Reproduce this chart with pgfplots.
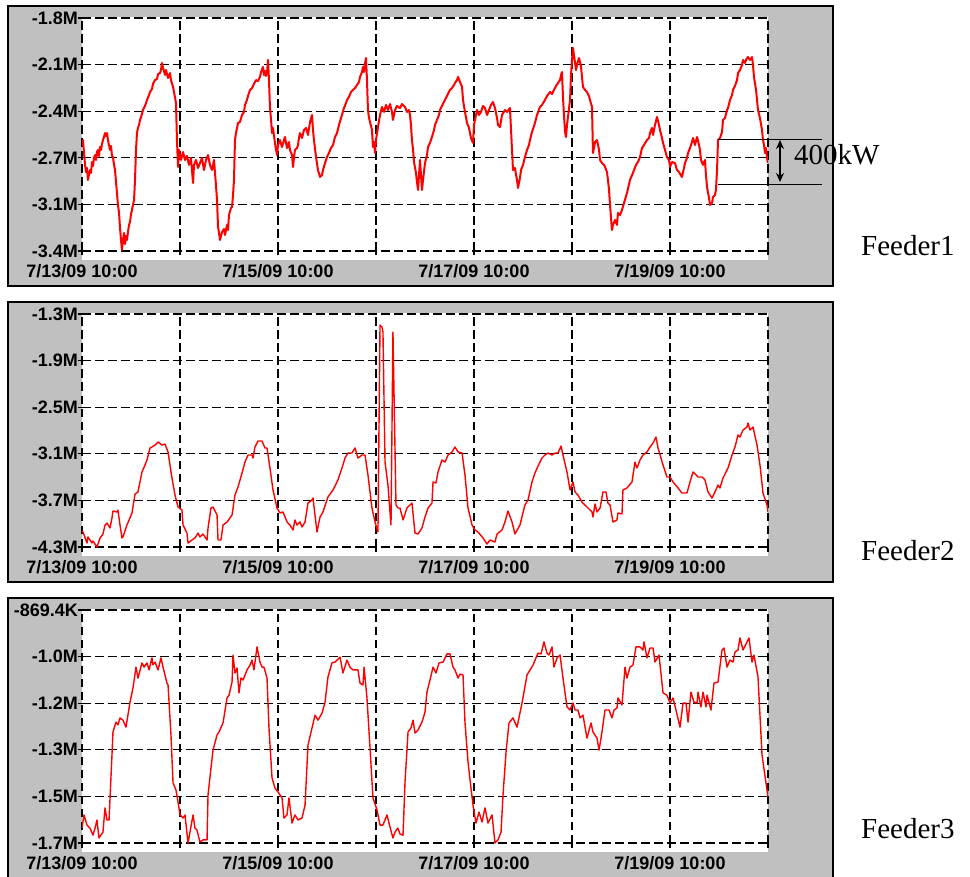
\documentclass[border=0pt]{standalone}
\usepackage{fontspec}
\setmainfont{Liberation Serif}
\setsansfont{Liberation Sans}
\usepackage{pgfplots}
\pgfplotsset{compat=1.18}
\usetikzlibrary{arrows.meta}
\definecolor{panelgray}{RGB}{192,192,192}

\pgfplotsset{feeder/.style={
  scale only axis, width=686pt, height=233pt,
  xmin=0, xmax=7, xtick={0,1,2,3,4,5,6,7},
  xticklabels={7/13/09 10:00,,7/15/09 10:00,,7/17/09 10:00,,7/19/09 10:00,},
  grid=major,
  major grid style={black, line width=1.3pt, dash pattern=on 8.5pt off 4.5pt},
  axis line style={draw=none},
  tick align=center, major tick length=9pt,
  tick style={black, line width=1.2pt},
  xtick pos=bottom, ytick pos=left,
  tick label style={font=\sffamily\bfseries\fontsize{18}{18}\selectfont},
  xticklabel style={yshift=-5pt},
  yticklabel style={xshift=4pt},
  every axis plot/.append style={red, line join=round, mark=none},
}}

\begin{document}
\begin{tikzpicture}
\useasboundingbox (0,0) rectangle (970pt,-877pt);
% panel backgrounds
\foreach \t in {6,302,598}{
  \fill[panelgray, draw=black, line width=1.5pt] (8pt,-\t pt) rectangle (833pt,{-(\t+280)*1pt});
  \fill[white] (82pt,{-(\t+11)*1pt}) rectangle (768pt,{-(\t+254)*1pt});
}

% ---------------- Feeder 1 ----------------
\begin{axis}[feeder, at={(82pt,-251pt)}, anchor=south west,
  ymin=-3.4, ymax=-1.8,
  ytick={-3.4,-3.08,-2.76,-2.44,-2.12,-1.8},
  yticklabels={-3.4M,-3.1M,-2.7M,-2.4M,-2.1M,-1.8M}]
\addplot[line width=2pt] table {
0.000 -2.679
0.010 -2.638
0.020 -2.720
0.031 -2.809
0.041 -2.858
0.051 -2.830
0.061 -2.912
0.071 -2.878
0.082 -2.844
0.092 -2.864
0.102 -2.789
0.112 -2.816
0.122 -2.761
0.133 -2.741
0.143 -2.775
0.153 -2.720
0.163 -2.706
0.173 -2.748
0.184 -2.686
0.194 -2.706
0.204 -2.665
0.214 -2.638
0.224 -2.617
0.235 -2.590
0.245 -2.610
0.255 -2.590
0.265 -2.638
0.275 -2.672
0.286 -2.706
0.296 -2.679
0.306 -2.748
0.316 -2.755
0.327 -2.809
0.337 -2.844
0.347 -2.926
0.357 -3.002
0.367 -3.084
0.378 -3.139
0.388 -3.242
0.398 -3.324
0.408 -3.393
0.418 -3.324
0.429 -3.276
0.439 -3.352
0.449 -3.297
0.459 -3.324
0.469 -3.270
0.480 -3.221
0.490 -3.201
0.500 -3.146
0.510 -3.118
0.520 -3.084
0.531 -3.050
0.541 -2.912
0.551 -2.706
0.561 -2.590
0.571 -2.555
0.582 -2.535
0.592 -2.500
0.602 -2.480
0.612 -2.459
0.622 -2.432
0.643 -2.404
0.663 -2.363
0.684 -2.329
0.694 -2.308
0.714 -2.288
0.724 -2.253
0.745 -2.226
0.765 -2.219
0.776 -2.185
0.796 -2.178
0.806 -2.157
0.816 -2.109
0.827 -2.143
0.837 -2.164
0.847 -2.191
0.857 -2.157
0.878 -2.212
0.898 -2.178
0.908 -2.226
0.929 -2.274
0.939 -2.308
0.959 -2.384
0.969 -2.638
0.980 -2.823
0.990 -2.706
1.000 -2.741
1.010 -2.775
1.031 -2.720
1.051 -2.775
1.071 -2.748
1.092 -2.809
1.112 -2.761
1.133 -2.933
1.143 -2.809
1.163 -2.775
1.184 -2.830
1.204 -2.796
1.224 -2.761
1.245 -2.844
1.265 -2.775
1.286 -2.741
1.306 -2.809
1.327 -2.844
1.347 -2.775
1.357 -2.864
1.367 -2.947
1.378 -3.050
1.388 -3.235
1.398 -3.276
1.408 -3.324
1.429 -3.270
1.449 -3.249
1.459 -3.290
1.480 -3.221
1.490 -3.256
1.500 -3.153
1.520 -3.105
1.531 -3.098
1.541 -3.015
1.551 -2.912
1.561 -2.638
1.571 -2.590
1.592 -2.521
1.612 -2.514
1.633 -2.466
1.653 -2.445
1.663 -2.397
1.684 -2.363
1.694 -2.336
1.714 -2.294
1.735 -2.281
1.755 -2.253
1.776 -2.226
1.796 -2.233
1.816 -2.205
1.827 -2.171
1.847 -2.136
1.857 -2.191
1.867 -2.164
1.878 -2.198
1.888 -2.178
1.898 -2.088
1.908 -2.226
1.918 -2.411
1.929 -2.500
1.939 -2.590
1.949 -2.555
1.969 -2.658
1.980 -2.706
1.990 -2.741
2.000 -2.672
2.020 -2.638
2.041 -2.686
2.061 -2.638
2.071 -2.617
2.092 -2.693
2.112 -2.652
2.122 -2.706
2.143 -2.741
2.153 -2.823
2.163 -2.761
2.173 -2.706
2.194 -2.693
2.204 -2.672
2.214 -2.624
2.224 -2.590
2.245 -2.624
2.265 -2.569
2.286 -2.555
2.306 -2.603
2.327 -2.514
2.347 -2.466
2.357 -2.569
2.367 -2.638
2.388 -2.755
2.408 -2.844
2.429 -2.892
2.449 -2.878
2.459 -2.844
2.480 -2.796
2.500 -2.755
2.520 -2.727
2.541 -2.693
2.561 -2.672
2.582 -2.617
2.602 -2.590
2.622 -2.535
2.643 -2.487
2.653 -2.466
2.673 -2.418
2.694 -2.384
2.704 -2.363
2.724 -2.342
2.745 -2.308
2.765 -2.294
2.786 -2.281
2.806 -2.260
2.827 -2.239
2.837 -2.205
2.857 -2.171
2.867 -2.136
2.878 -2.171
2.888 -2.109
2.898 -2.075
2.908 -2.226
2.918 -2.432
2.929 -2.487
2.939 -2.514
2.959 -2.569
2.969 -2.686
2.980 -2.652
2.990 -2.727
3.000 -2.638
3.020 -2.549
3.041 -2.466
3.061 -2.411
3.082 -2.445
3.102 -2.397
3.122 -2.432
3.143 -2.391
3.163 -2.445
3.173 -2.500
3.194 -2.432
3.214 -2.404
3.245 -2.418
3.265 -2.391
3.296 -2.411
3.316 -2.445
3.337 -2.432
3.347 -2.466
3.357 -2.535
3.367 -2.638
3.378 -2.706
3.388 -2.789
3.408 -2.864
3.418 -2.926
3.429 -2.981
3.439 -2.878
3.449 -2.775
3.459 -2.878
3.469 -2.981
3.480 -2.912
3.500 -2.796
3.520 -2.741
3.531 -2.686
3.551 -2.658
3.571 -2.617
3.592 -2.569
3.602 -2.535
3.622 -2.500
3.643 -2.466
3.653 -2.432
3.673 -2.404
3.704 -2.363
3.724 -2.336
3.755 -2.294
3.776 -2.281
3.796 -2.260
3.806 -2.246
3.827 -2.226
3.837 -2.205
3.857 -2.239
3.878 -2.274
3.888 -2.363
3.908 -2.445
3.929 -2.521
3.949 -2.555
3.969 -2.624
3.990 -2.658
4.000 -2.535
4.010 -2.500
4.031 -2.432
4.051 -2.466
4.071 -2.445
4.092 -2.404
4.112 -2.418
4.133 -2.466
4.153 -2.432
4.173 -2.397
4.194 -2.377
4.214 -2.418
4.235 -2.487
4.245 -2.535
4.265 -2.549
4.286 -2.466
4.316 -2.432
4.337 -2.445
4.367 -2.418
4.378 -2.569
4.388 -2.706
4.398 -2.844
4.418 -2.830
4.429 -2.878
4.439 -2.912
4.449 -2.967
4.469 -2.899
4.480 -2.844
4.500 -2.809
4.520 -2.755
4.541 -2.706
4.561 -2.672
4.571 -2.638
4.592 -2.583
4.612 -2.542
4.622 -2.521
4.643 -2.466
4.673 -2.411
4.694 -2.397
4.724 -2.363
4.745 -2.336
4.776 -2.308
4.796 -2.322
4.816 -2.294
4.837 -2.267
4.857 -2.246
4.878 -2.226
4.888 -2.191
4.898 -2.171
4.908 -2.342
4.918 -2.466
4.929 -2.583
4.939 -2.617
4.949 -2.535
4.959 -2.480
4.980 -2.363
4.990 -2.191
5.000 -2.088
5.010 -2.006
5.020 -2.054
5.041 -2.157
5.051 -2.123
5.071 -2.075
5.082 -2.102
5.092 -2.136
5.112 -2.274
5.133 -2.294
5.153 -2.308
5.173 -2.336
5.184 -2.363
5.204 -2.411
5.214 -2.727
5.224 -2.693
5.235 -2.652
5.255 -2.638
5.276 -2.706
5.286 -2.775
5.306 -2.796
5.327 -2.809
5.337 -2.823
5.357 -2.858
5.367 -2.912
5.378 -2.981
5.388 -3.084
5.408 -3.256
5.418 -3.221
5.439 -3.187
5.459 -3.221
5.469 -3.139
5.490 -3.153
5.510 -3.118
5.531 -3.070
5.561 -3.002
5.592 -2.912
5.622 -2.864
5.653 -2.809
5.673 -2.789
5.694 -2.755
5.714 -2.693
5.735 -2.672
5.765 -2.638
5.786 -2.624
5.796 -2.590
5.816 -2.555
5.827 -2.603
5.847 -2.535
5.867 -2.480
5.888 -2.535
5.898 -2.569
5.918 -2.624
5.929 -2.658
5.949 -2.706
5.969 -2.755
5.990 -2.775
6.000 -2.823
6.020 -2.789
6.051 -2.796
6.071 -2.844
6.092 -2.858
6.122 -2.892
6.143 -2.830
6.153 -2.796
6.173 -2.761
6.184 -2.727
6.204 -2.693
6.224 -2.652
6.235 -2.624
6.255 -2.672
6.276 -2.617
6.296 -2.672
6.306 -2.706
6.316 -2.775
6.337 -2.809
6.357 -2.775
6.367 -2.878
6.378 -2.961
6.398 -3.036
6.408 -3.084
6.429 -3.070
6.439 -3.029
6.459 -3.015
6.469 -2.981
6.480 -2.844
6.490 -2.638
6.510 -2.624
6.531 -2.583
6.541 -2.500
6.561 -2.487
6.582 -2.432
6.592 -2.418
6.612 -2.363
6.633 -2.329
6.643 -2.294
6.663 -2.267
6.684 -2.226
6.694 -2.178
6.714 -2.157
6.735 -2.123
6.745 -2.088
6.765 -2.109
6.776 -2.088
6.796 -2.068
6.816 -2.088
6.837 -2.068
6.847 -2.123
6.857 -2.205
6.878 -2.294
6.888 -2.363
6.898 -2.432
6.918 -2.487
6.939 -2.569
6.949 -2.638
6.959 -2.672
6.969 -2.727
6.980 -2.693
6.990 -2.761
7.000 -2.796
};
\end{axis}

% ---------------- Feeder 2 ----------------
\begin{axis}[feeder, at={(82pt,-547pt)}, anchor=south west,
  ymin=-4.3, ymax=-1.3,
  ytick={-4.3,-3.7,-3.1,-2.5,-1.9,-1.3},
  yticklabels={-4.3M,-3.7M,-3.1M,-2.5M,-1.9M,-1.3M}]
\addplot[line width=1.4pt] table {
0.000 -4.094
0.010 -4.107
0.051 -4.249
0.061 -4.171
0.102 -4.249
0.112 -4.223
0.153 -4.300
0.184 -4.184
0.214 -4.133
0.235 -4.017
0.255 -3.991
0.286 -4.055
0.306 -3.927
0.316 -3.837
0.357 -3.849
0.367 -3.824
0.388 -4.017
0.408 -4.184
0.418 -4.171
0.459 -4.017
0.510 -3.862
0.541 -3.618
0.571 -3.592
0.612 -3.334
0.643 -3.244
0.663 -3.180
0.694 -3.025
0.714 -3.012
0.745 -2.987
0.776 -2.948
0.816 -2.987
0.847 -2.974
0.878 -3.077
0.918 -3.412
0.949 -3.631
0.980 -3.785
1.020 -3.824
1.031 -4.017
1.071 -4.120
1.082 -4.249
1.122 -4.210
1.153 -4.184
1.184 -4.120
1.204 -4.171
1.235 -4.133
1.276 -4.210
1.286 -4.055
1.316 -3.798
1.337 -3.785
1.378 -3.888
1.388 -4.210
1.418 -4.210
1.439 -4.017
1.480 -3.978
1.531 -3.888
1.561 -3.631
1.592 -3.528
1.633 -3.347
1.663 -3.206
1.694 -3.116
1.735 -3.116
1.745 -3.154
1.765 -3.012
1.796 -2.935
1.837 -2.935
1.867 -3.025
1.888 -3.025
1.918 -3.283
1.949 -3.566
1.990 -3.798
2.020 -3.862
2.051 -3.849
2.092 -3.978
2.122 -4.017
2.153 -4.081
2.173 -3.952
2.194 -4.017
2.224 -3.978
2.245 -4.042
2.276 -3.978
2.306 -3.734
2.347 -3.695
2.357 -3.669
2.398 -4.107
2.429 -3.914
2.459 -3.849
2.510 -3.656
2.561 -3.566
2.612 -3.437
2.653 -3.283
2.684 -3.154
2.714 -3.090
2.755 -3.090
2.786 -3.025
2.816 -3.154
2.857 -3.116
2.888 -3.116
2.918 -3.373
2.959 -3.798
2.990 -3.978
3.020 -4.107
3.041 -1.442
3.061 -1.467
3.071 -1.532
3.092 -3.206
3.122 -3.502
3.153 -4.017
3.173 -1.532
3.204 -3.759
3.224 -3.798
3.245 -3.798
3.276 -3.952
3.316 -3.798
3.347 -3.759
3.367 -3.734
3.398 -4.120
3.429 -4.133
3.469 -4.055
3.500 -3.914
3.531 -3.798
3.571 -3.734
3.582 -3.463
3.612 -3.476
3.633 -3.334
3.673 -3.180
3.704 -3.206
3.735 -3.116
3.776 -3.077
3.806 -3.012
3.837 -3.077
3.878 -3.090
3.908 -3.373
3.939 -3.798
3.980 -4.017
4.010 -4.081
4.041 -4.107
4.092 -4.184
4.133 -4.262
4.163 -4.210
4.214 -4.236
4.235 -4.133
4.286 -4.081
4.316 -3.978
4.347 -3.837
4.388 -3.978
4.418 -4.133
4.469 -4.017
4.520 -3.759
4.551 -3.695
4.592 -3.463
4.622 -3.347
4.673 -3.206
4.694 -3.154
4.724 -3.116
4.755 -3.090
4.796 -3.116
4.827 -3.090
4.857 -3.090
4.888 -3.000
4.908 -3.116
4.949 -3.334
4.980 -3.566
5.010 -3.463
5.031 -3.592
5.061 -3.631
5.102 -3.721
5.153 -3.785
5.204 -3.849
5.214 -3.914
5.235 -3.746
5.255 -3.849
5.286 -3.798
5.316 -3.592
5.347 -3.592
5.367 -3.734
5.388 -3.759
5.418 -3.978
5.459 -3.952
5.469 -3.862
5.510 -3.875
5.520 -3.566
5.561 -3.540
5.612 -3.463
5.643 -3.206
5.663 -3.283
5.694 -3.180
5.724 -3.116
5.765 -3.077
5.796 -3.012
5.827 -2.961
5.857 -2.884
5.878 -3.025
5.929 -3.244
5.969 -3.399
6.000 -3.399
6.031 -3.463
6.082 -3.540
6.122 -3.605
6.173 -3.605
6.204 -3.463
6.235 -3.334
6.286 -3.399
6.327 -3.399
6.357 -3.437
6.388 -3.592
6.429 -3.669
6.459 -3.592
6.490 -3.502
6.510 -3.540
6.541 -3.412
6.592 -3.283
6.633 -3.116
6.663 -3.012
6.694 -2.858
6.714 -2.884
6.745 -2.794
6.786 -2.755
6.796 -2.704
6.816 -2.794
6.847 -2.755
6.888 -2.987
6.918 -3.244
6.949 -3.605
6.990 -3.759
7.000 -3.849
};
\end{axis}

% ---------------- Feeder 3 ----------------
\begin{axis}[feeder, at={(82pt,-843pt)}, anchor=south west,
  ymin=-1.7, ymax=-0.8694,
  ytick={-1.7,-1.53388,-1.36776,-1.20164,-1.03552,-0.8694},
  yticklabels={-1.7M,-1.5M,-1.3M,-1.2M,-1.0M,-869.4K}]
\addplot[line width=1.4pt] table {
0.000 -1.647
0.020 -1.600
0.051 -1.636
0.082 -1.647
0.112 -1.672
0.133 -1.647
0.153 -1.618
0.173 -1.682
0.214 -1.661
0.235 -1.575
0.255 -1.618
0.276 -1.618
0.306 -1.386
0.316 -1.304
0.347 -1.269
0.367 -1.279
0.388 -1.254
0.418 -1.262
0.449 -1.287
0.490 -1.198
0.520 -1.148
0.551 -1.073
0.571 -1.112
0.612 -1.058
0.633 -1.073
0.663 -1.058
0.684 -1.083
0.714 -1.040
0.724 -1.065
0.745 -1.055
0.776 -1.083
0.806 -1.040
0.827 -1.073
0.867 -1.130
0.878 -1.137
0.908 -1.315
0.929 -1.486
0.959 -1.511
0.980 -1.554
1.000 -1.600
1.031 -1.611
1.051 -1.600
1.082 -1.700
1.133 -1.600
1.153 -1.647
1.173 -1.654
1.204 -1.697
1.235 -1.689
1.276 -1.689
1.286 -1.529
1.316 -1.433
1.337 -1.369
1.378 -1.315
1.398 -1.304
1.439 -1.272
1.480 -1.183
1.500 -1.173
1.531 -1.126
1.541 -1.030
1.561 -1.094
1.582 -1.076
1.602 -1.165
1.622 -1.112
1.643 -1.119
1.684 -1.083
1.714 -1.066
1.735 -1.048
1.755 -1.083
1.786 -1.001
1.816 -1.055
1.837 -1.073
1.857 -1.073
1.888 -1.112
1.908 -1.290
1.939 -1.468
1.969 -1.504
2.000 -1.518
2.041 -1.539
2.061 -1.611
2.092 -1.600
2.112 -1.539
2.143 -1.629
2.173 -1.600
2.204 -1.618
2.245 -1.611
2.276 -1.565
2.306 -1.351
2.347 -1.290
2.378 -1.244
2.408 -1.262
2.449 -1.237
2.480 -1.198
2.510 -1.108
2.551 -1.058
2.582 -1.055
2.633 -1.037
2.663 -1.094
2.704 -1.048
2.735 -1.073
2.765 -1.083
2.816 -1.083
2.837 -1.130
2.867 -1.137
2.878 -1.073
2.908 -1.183
2.939 -1.361
2.969 -1.539
3.010 -1.582
3.041 -1.636
3.071 -1.636
3.112 -1.600
3.143 -1.643
3.173 -1.682
3.194 -1.661
3.224 -1.647
3.245 -1.668
3.276 -1.672
3.296 -1.483
3.327 -1.304
3.357 -1.290
3.378 -1.262
3.398 -1.308
3.429 -1.297
3.469 -1.269
3.500 -1.233
3.520 -1.162
3.551 -1.119
3.582 -1.073
3.612 -1.094
3.643 -1.058
3.684 -1.055
3.724 -1.026
3.755 -1.026
3.786 -1.073
3.806 -1.083
3.837 -1.112
3.857 -1.098
3.888 -1.101
3.908 -1.269
3.939 -1.411
3.969 -1.504
3.990 -1.565
4.020 -1.629
4.051 -1.590
4.082 -1.625
4.112 -1.575
4.143 -1.629
4.184 -1.600
4.214 -1.700
4.245 -1.689
4.276 -1.661
4.296 -1.529
4.327 -1.376
4.357 -1.272
4.398 -1.254
4.439 -1.287
4.490 -1.201
4.541 -1.101
4.602 -1.066
4.653 -1.023
4.684 -1.026
4.714 -0.983
4.745 -1.023
4.765 -1.030
4.796 -1.001
4.816 -1.073
4.847 -1.040
4.878 -1.030
4.908 -1.112
4.949 -1.215
4.980 -1.226
5.010 -1.201
5.031 -1.226
5.061 -1.226
5.082 -1.254
5.112 -1.244
5.153 -1.326
5.194 -1.272
5.214 -1.304
5.255 -1.326
5.276 -1.369
5.306 -1.304
5.337 -1.226
5.378 -1.226
5.408 -1.254
5.429 -1.226
5.459 -1.219
5.469 -1.183
5.510 -1.208
5.541 -1.073
5.561 -1.112
5.592 -1.073
5.622 -1.066
5.653 -1.001
5.694 -1.001
5.724 -1.012
5.735 -0.983
5.765 -1.040
5.796 -1.005
5.827 -1.005
5.847 -1.055
5.888 -1.030
5.929 -1.165
5.969 -1.173
6.000 -1.201
6.031 -1.183
6.061 -1.226
6.102 -1.287
6.133 -1.201
6.163 -1.201
6.184 -1.269
6.214 -1.162
6.245 -1.198
6.276 -1.201
6.286 -1.162
6.316 -1.215
6.337 -1.162
6.367 -1.215
6.378 -1.173
6.418 -1.226
6.449 -1.130
6.490 -1.126
6.531 -1.012
6.551 -1.005
6.582 -1.073
6.612 -1.048
6.643 -1.055
6.663 -1.019
6.694 -1.012
6.714 -0.969
6.745 -1.012
6.786 -0.983
6.806 -0.969
6.837 -1.055
6.857 -1.030
6.898 -1.108
6.939 -1.386
7.000 -1.536
};
\end{axis}

% annotation on Feeder 1
\draw[black, line width=0.9pt] (718pt,-139pt) -- (822pt,-139pt);
\draw[black, line width=0.9pt] (718pt,-184pt) -- (822pt,-184pt);
\draw[black, line width=2pt, {Stealth[length=9pt,width=8pt]}-{Stealth[length=9pt,width=8pt]}] (780pt,-140pt) -- (780pt,-182pt);
\node[anchor=base west, inner sep=0pt, font=\fontsize{29}{29}\selectfont] at (794pt,-165pt) {400kW};

% feeder labels
\node[anchor=base west, inner sep=0pt, font=\fontsize{29}{29}\selectfont] at (861pt,-256pt) {Feeder1};
\node[anchor=base west, inner sep=0pt, font=\fontsize{29}{29}\selectfont] at (861pt,-560pt) {Feeder2};
\node[anchor=base west, inner sep=0pt, font=\fontsize{29}{29}\selectfont] at (861pt,-838pt) {Feeder3};
\end{tikzpicture}
\end{document}
